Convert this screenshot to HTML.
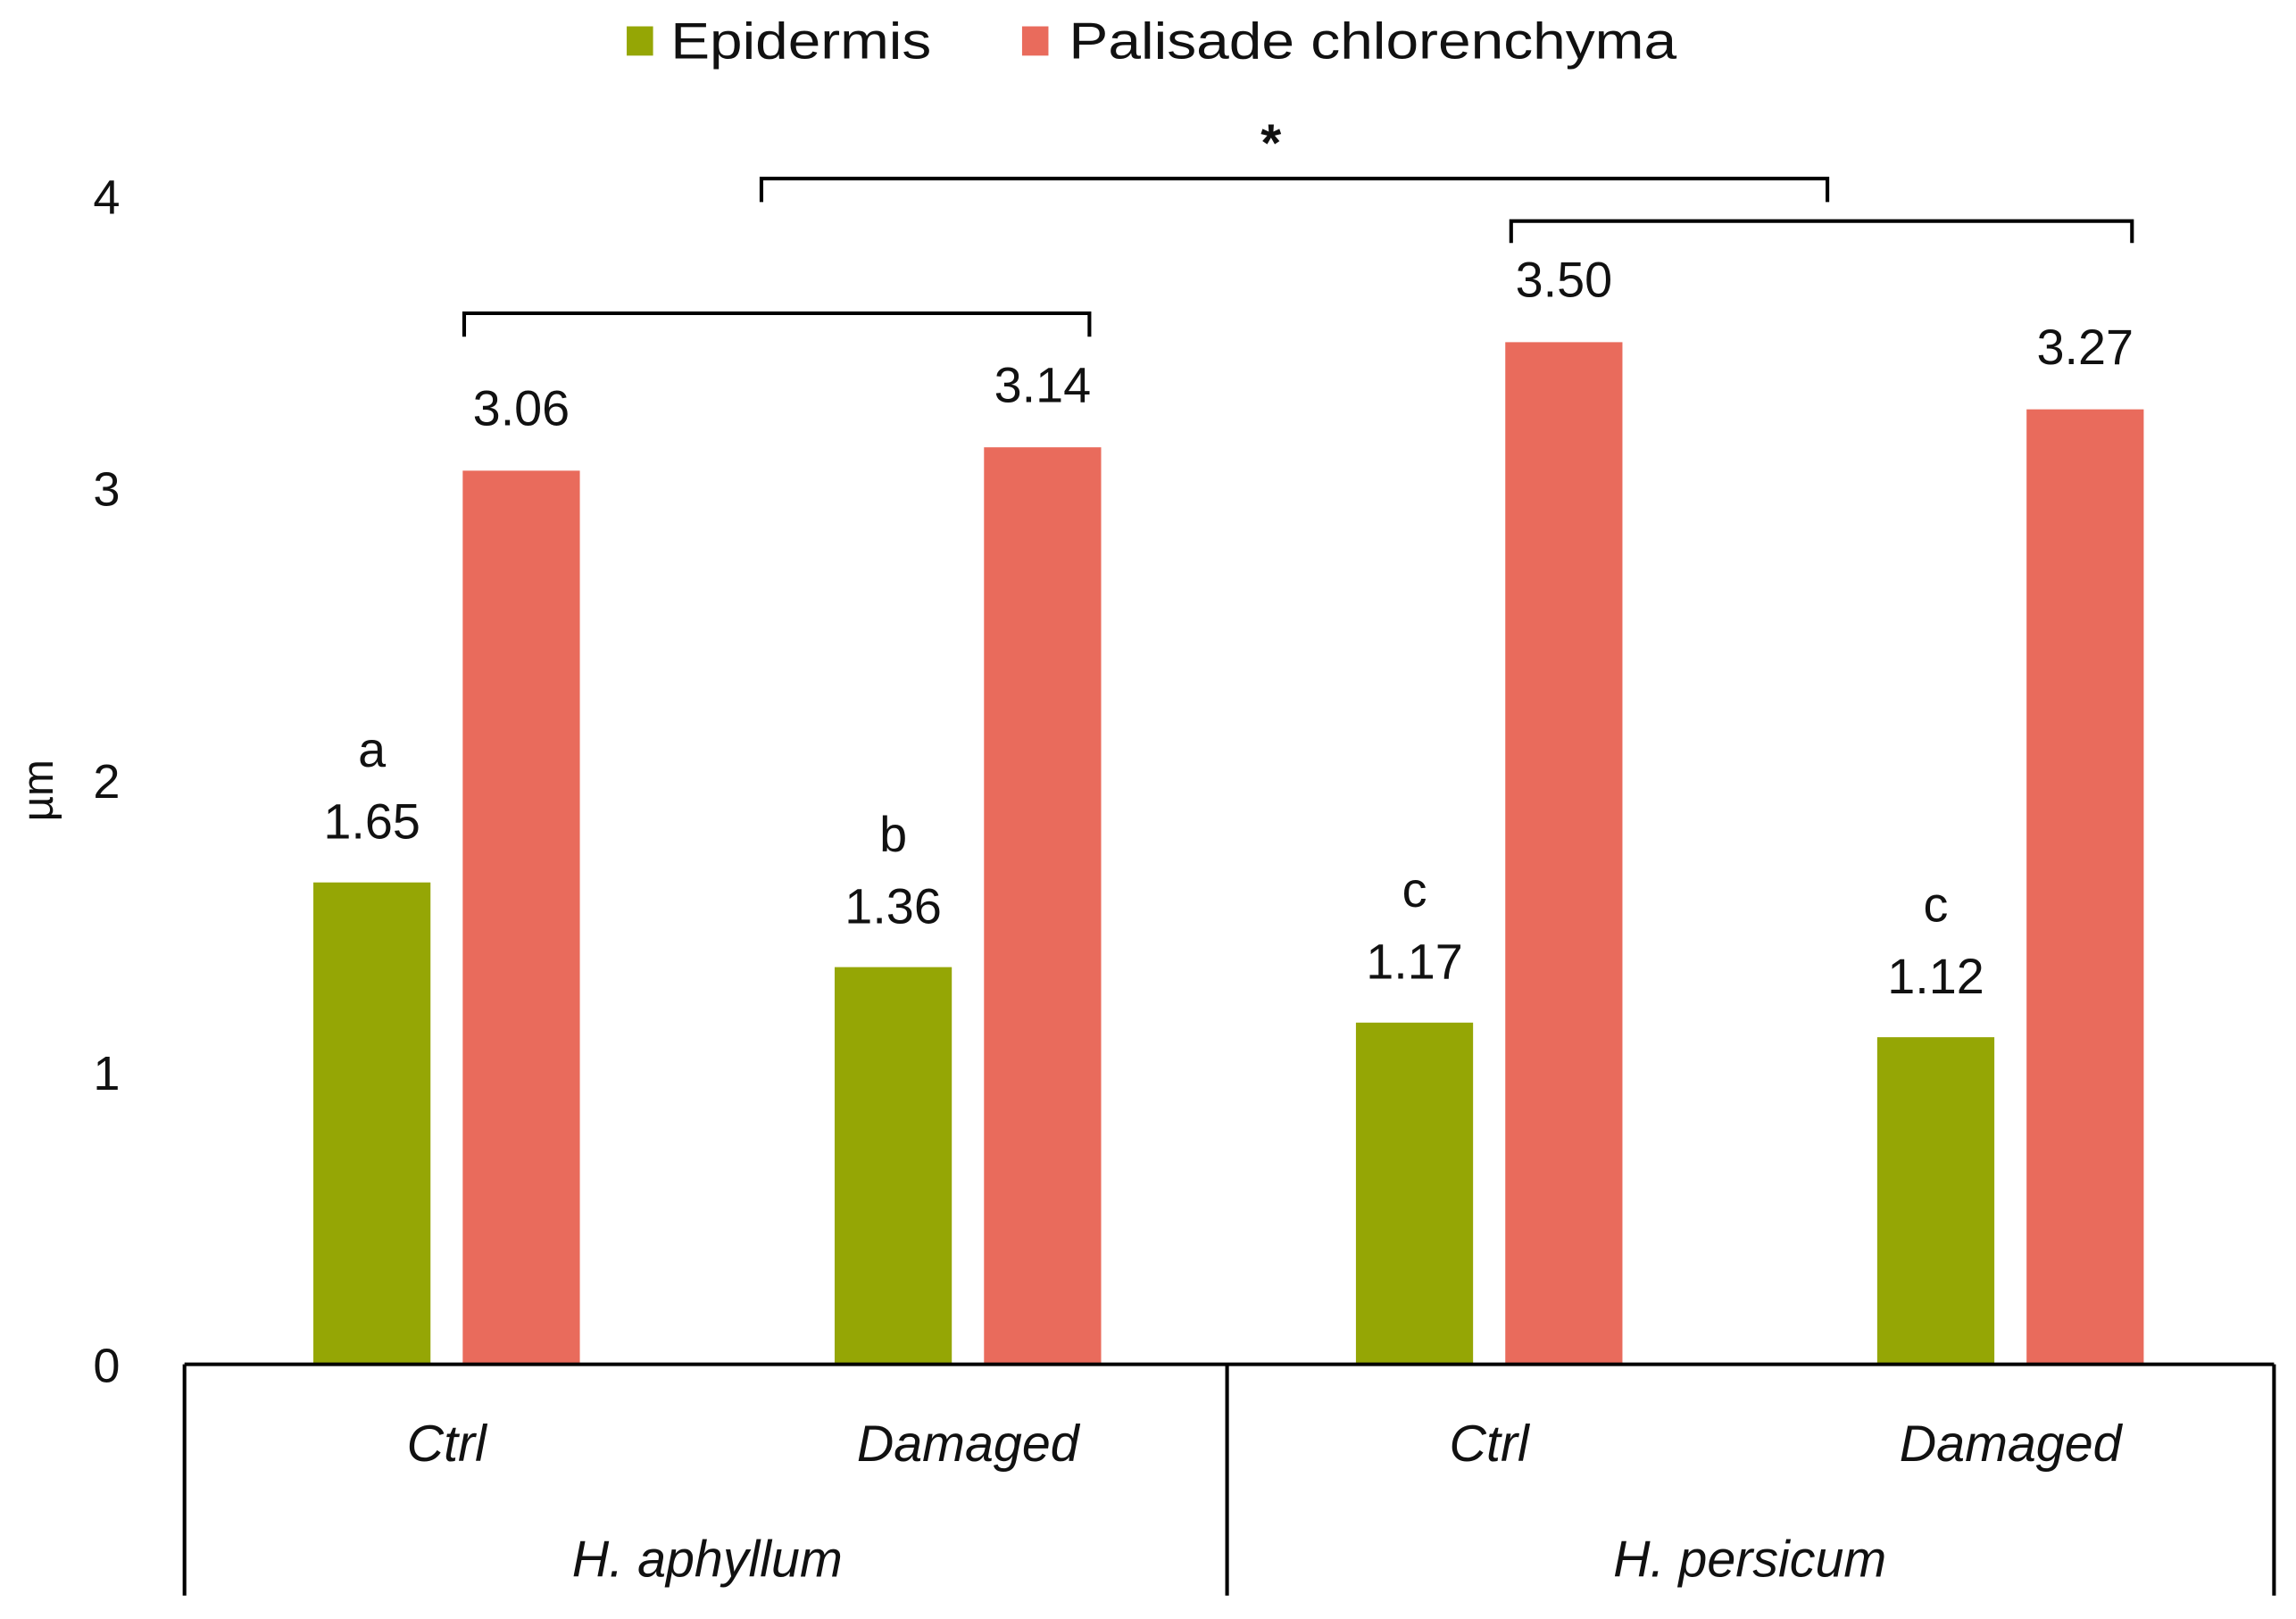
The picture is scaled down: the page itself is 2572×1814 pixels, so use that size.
<!DOCTYPE html>
<html><head><meta charset="utf-8"><style>
html,body{margin:0;padding:0;background:#fff;}
svg{display:block;}
text{font-family:"Liberation Sans",sans-serif;fill:#111;}
</style></head><body>
<svg id="chart" width="2572" height="1814" viewBox="0 0 1568 1106" preserveAspectRatio="none" xmlns="http://www.w3.org/2000/svg">
<g id="legend">
<rect x="428" y="18" width="18" height="20" fill="#95a605"/>
<text x="458" y="40" font-size="35" textLength="178" lengthAdjust="spacingAndGlyphs">Epidermis</text>
<rect x="698" y="18" width="18" height="20" fill="#e96b5c"/>
<text x="730" y="40" font-size="35" textLength="415" lengthAdjust="spacingAndGlyphs">Palisade chlorenchyma</text>
</g>
<text transform="translate(36,540) rotate(-90)" font-size="30" text-anchor="middle">µm</text>
<g id="ticks"></g>
<g id="bars"></g>
<g id="axis" stroke="#000" stroke-width="2.5" fill="none">
<line x1="126" y1="932" x2="1553" y2="932"/>
<line x1="126" y1="932" x2="126" y2="1090"/>
<line x1="838" y1="932" x2="838" y2="1090"/>
<line x1="1553" y1="932" x2="1553" y2="1090"/>
</g>
<g id="brackets" stroke="#000" stroke-width="2.5" fill="none">
<path d="M520 138 V122 H1248 V138"/>
<path d="M1032 166 V151 H1456 V166"/>
<path d="M317 230 V214 H744 V230"/>
</g>
<text x="868" y="110" font-size="36" font-weight="bold" text-anchor="middle">*</text>
</svg>
<script>
const categories = ["Ctrl","Damaged","Ctrl","Damaged"];
const species = ["H. aphyllum","H. persicum"];
const epidermis = [1.65,1.36,1.17,1.12];
const palisade = [3.06,3.14,3.50,3.27];
const letters = ["a","b","c","c"];
const yTicks = [0,1,2,3,4];
const NS="http://www.w3.org/2000/svg";
function y(v){return 932 - v*199.5;}
function cx(i){return 305 + i*356;}
function mk(tag,attrs,parent,txt){const e=document.createElementNS(NS,tag);for(const k in attrs)e.setAttribute(k,attrs[k]);if(txt!==undefined)e.textContent=txt;parent.appendChild(e);return e;}
const tg=document.getElementById('ticks');
yTicks.forEach(t=>{
 const e=mk('text',{x:82,y:y(t)+12,'font-size':33,'text-anchor':'end'},tg,String(t));
 
 
});
const bg=document.getElementById('bars');
categories.forEach((c,i)=>{
 const g1=mk('rect',{x:cx(i)-91,y:y(epidermis[i]),width:80,height:932-y(epidermis[i]),fill:'#95a605'},bg);
 
 
 const r1=mk('rect',{x:cx(i)+11,y:y(palisade[i]),width:80,height:932-y(palisade[i]),fill:'#e96b5c'},bg);
 
 
 const v1=mk('text',{x:cx(i)-51,y:y(epidermis[i])-30,'font-size':34,'text-anchor':'middle'},bg,epidermis[i].toFixed(2));
 
 
 const l1=mk('text',{x:cx(i)-51,y:y(epidermis[i])-79,'font-size':34,'text-anchor':'middle'},bg,letters[i]);
 
 
 const v2=mk('text',{x:cx(i)+51,y:y(palisade[i])-31,'font-size':34,'text-anchor':'middle'},bg,palisade[i].toFixed(2));
 
 
 const cl=mk('text',{x:cx(i),y:998,'font-size':35,'font-style':'italic','text-anchor':'middle'},bg,c);
 
 
});
species.forEach((s,j)=>{
 const sl=mk('text',{x:(cx(2*j)+cx(2*j+1))/2,y:1077,'font-size':35,'font-style':'italic','text-anchor':'middle'},bg,s);
 
 
});
</script>
</body></html>
